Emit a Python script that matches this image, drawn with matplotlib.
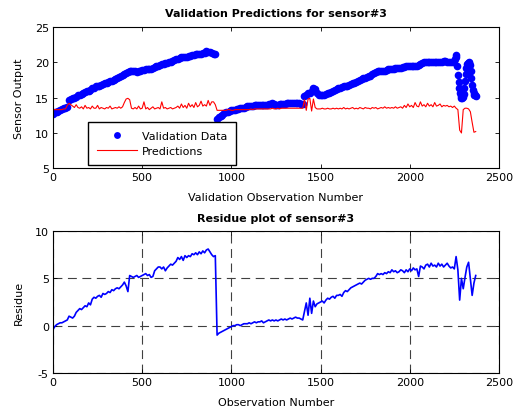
import numpy as np
import matplotlib
matplotlib.use("Agg")
import matplotlib.pyplot as plt

plt.rcParams['font.family'] = ['DejaVu Sans']
plt.rcParams['axes.unicode_minus'] = False

# observation index (every 10th observation)
obs = np.arange(0, 2380, 10)
# validation data: every 10th observation, then every 4th in the final swing
val_obs = np.concatenate([np.arange(0, 2250, 10), np.arange(2250, 2374, 4)])

validation_data = [
    12.7, 12.9, 13.0, 13.1, 13.3, 13.4, 13.5, 13.6, 13.7, 14.6,
    14.8, 14.9, 15.0, 15.1, 15.3, 15.3, 15.5, 15.6, 15.8, 15.9,
    16.0, 16.1, 16.3, 16.4, 16.6, 16.6, 16.7, 16.8, 16.9, 17.0,
    17.1, 17.2, 17.3, 17.4, 17.5, 17.6, 17.8, 17.9, 18.1, 18.2,
    18.4, 18.5, 18.6, 18.7, 18.8, 18.7, 18.7, 18.6, 18.7, 18.8,
    18.9, 18.9, 19.0, 19.0, 19.0, 19.1, 19.2, 19.3, 19.4, 19.5,
    19.6, 19.7, 19.8, 19.9, 19.9, 20.0, 20.1, 20.2, 20.3, 20.4,
    20.5, 20.6, 20.7, 20.7, 20.8, 20.8, 20.9, 20.9, 21.0, 21.0,
    21.1, 21.1, 21.2, 21.2, 21.3, 21.3, 21.6, 21.5, 21.4, 21.3,
    21.2, 21.1, 12.0, 12.2, 12.4, 12.6, 12.8, 12.9, 13.0, 13.1,
    13.2, 13.3, 13.3, 13.4, 13.4, 13.5, 13.5, 13.6, 13.7, 13.8,
    13.8, 13.8, 13.8, 13.9, 13.9, 14.0, 14.0, 14.0, 14.0, 14.0,
    14.0, 14.1, 14.1, 14.2, 14.1, 14.0, 14.0, 14.1, 14.1, 14.1,
    14.1, 14.2, 14.2, 14.3, 14.3, 14.2, 14.2, 14.2, 14.2, 14.1,
    14.1, 15.2, 15.4, 15.6, 15.7, 15.9, 16.3, 16.2, 15.6, 15.4,
    15.4, 15.4, 15.4, 15.5, 15.6, 15.7, 15.8, 15.9, 16.1, 16.2,
    16.3, 16.4, 16.5, 16.6, 16.7, 16.7, 16.8, 16.9, 17.0, 17.1,
    17.2, 17.3, 17.5, 17.6, 17.8, 17.8, 17.9, 18.0, 18.1, 18.3,
    18.5, 18.6, 18.7, 18.7, 18.7, 18.7, 18.8, 18.9, 19.0, 19.0,
    19.0, 19.1, 19.2, 19.2, 19.2, 19.2, 19.3, 19.3, 19.4, 19.4,
    19.4, 19.4, 19.4, 19.5, 19.5, 19.6, 19.7, 19.9, 20.0, 20.1,
    20.1, 20.0, 20.0, 20.0, 20.0, 20.1, 20.1, 20.1, 20.1, 20.2,
    20.2, 20.1, 20.1, 20.1, 20.1,
    # final swing, every 4th observation from 2250
    20.2, 20.5, 21.0, 20.8, 19.5, 18.2, 17.2, 16.3, 15.7, 15.2,
    15.0, 15.0, 15.1, 15.5, 16.3, 17.3, 18.4, 19.2, 19.7, 19.9,
    20.0, 19.9, 19.6, 18.8, 17.8, 16.8, 16.1, 15.7, 15.4, 15.3,
    15.2,
]

predictions = [
    13.3, 13.3, 13.3, 13.3, 13.3, 13.3, 13.4, 13.4, 13.9, 14.2,
    14.0, 13.8, 13.6, 14.0, 13.6, 13.5, 13.7, 13.4, 13.9, 13.5,
    13.6, 13.4, 13.8, 13.5, 13.5, 13.9, 13.4, 13.6, 13.5, 13.4,
    13.6, 13.5, 13.8, 13.4, 13.5, 13.6, 13.5, 13.7, 13.5, 13.7,
    14.3, 14.8, 14.9, 14.7, 13.5, 13.4, 13.6, 13.4, 13.8, 13.4,
    13.5, 14.4, 13.4, 13.6, 13.3, 13.5, 13.7, 13.4, 13.5, 13.6,
    13.4, 14.4, 13.5, 13.6, 13.4, 13.5, 13.6, 13.4, 13.5, 13.6,
    13.8, 13.5, 14.1, 13.6, 13.9, 13.5, 14.2, 13.7, 14.0, 13.6,
    14.3, 13.7, 13.9, 14.5, 13.8, 14.0, 13.8, 14.6, 13.9, 14.4,
    14.4, 14.0, 13.2, 13.2, 13.2, 13.2, 13.2, 13.2, 13.3, 13.3,
    13.2, 13.2, 13.3, 13.3, 13.3, 13.3, 13.3, 13.3, 13.3, 13.3,
    13.3, 13.4, 13.3, 13.4, 13.4, 13.4, 13.4, 13.4, 13.4, 13.4,
    13.4, 13.4, 13.4, 13.5, 13.4, 13.4, 13.5, 13.4, 13.5, 13.5,
    13.5, 13.5, 13.5, 13.5, 13.5, 13.5, 13.5, 13.5, 13.5, 13.5,
    13.5, 14.7, 13.2, 14.8, 14.9, 13.1, 14.8, 13.6, 13.4, 13.4,
    13.4, 13.5, 13.4, 13.4, 13.5, 13.4, 13.4, 13.5, 13.4, 13.5,
    13.4, 13.5, 13.4, 13.6, 13.4, 13.5, 13.4, 13.5, 13.6, 13.4,
    13.5, 13.4, 13.6, 13.5, 13.4, 13.6, 13.5, 13.5, 13.4, 13.6,
    13.5, 13.6, 13.4, 13.5, 13.6, 13.5, 13.7, 13.5, 13.6, 13.5,
    13.6, 13.5, 13.7, 13.5, 13.6, 13.7, 13.5, 13.9, 13.6, 14.1,
    13.7, 13.9, 13.6, 14.3, 13.8, 13.7, 14.4, 13.8, 14.0, 13.7,
    14.2, 13.8, 14.0, 13.7, 14.3, 13.8, 13.9, 14.1, 13.7, 13.9,
    13.8, 13.9, 13.7, 13.8, 13.6, 13.8, 13.5, 13.3, 10.4, 10.0,
    13.3, 13.5, 13.5, 13.4, 13.0, 11.5, 10.1, 10.2,
]

residue = [
    -0.4, -0.1, 0.1, 0.2, 0.3, 0.3, 0.4, 0.5, 0.6, 1.0,
    0.9, 0.8, 1.0, 1.4, 1.6, 1.8, 1.7, 1.9, 2.1, 2.0,
    2.4, 2.2, 2.8, 3.0, 2.9, 3.1, 3.2, 3.0, 3.4, 3.3,
    3.4, 3.6, 3.5, 3.8, 3.7, 3.9, 4.0, 3.9, 4.1, 4.3,
    4.6, 4.2, 3.6, 5.3, 5.2, 5.1, 5.2, 5.3, 5.1, 5.2,
    5.3, 5.4, 5.5, 5.3, 5.4, 5.1, 5.2, 5.8, 6.0, 6.2,
    6.2, 6.0, 6.2, 5.8, 6.1, 6.3, 6.5, 6.4, 6.6, 6.8,
    7.2, 7.0, 7.3, 6.9, 7.4, 7.2, 7.4, 7.3, 7.6, 7.5,
    7.7, 7.5, 7.8, 7.6, 7.9, 7.7, 8.0, 8.1, 7.8, 7.5,
    7.3, 7.4, -1.0, -0.8, -0.7, -0.6, -0.5, -0.4, -0.3, -0.2,
    -0.1, 0.0, 0.0, 0.1, 0.1, 0.0, 0.1, 0.2, 0.2, 0.2,
    0.3, 0.2, 0.3, 0.4, 0.3, 0.4, 0.4, 0.5, 0.3, 0.4,
    0.5, 0.6, 0.5, 0.6, 0.5, 0.6, 0.5, 0.6, 0.7, 0.6,
    0.7, 0.6, 0.7, 0.8, 0.7, 0.8, 0.9, 0.8, 0.8, 0.7,
    0.6, 1.5, 2.4, 1.1, 2.9, 1.3, 2.6, 2.0, 2.3, 2.4,
    2.5, 2.6, 2.4, 2.7, 2.9, 2.8, 3.0, 3.1, 2.9, 3.2,
    3.2, 3.3, 3.1, 3.5, 3.7, 3.6, 3.8, 4.0, 4.1, 4.2,
    4.3, 4.4, 4.5, 4.4, 4.6, 4.8, 4.9, 5.0, 4.9, 5.0,
    5.0, 5.2, 5.5, 5.4, 5.5, 5.4, 5.6, 5.5, 5.7, 5.6,
    5.9, 5.7, 5.8, 5.6, 5.7, 5.9, 5.8, 5.6, 5.9, 5.7,
    6.0, 5.8, 6.1, 5.9, 6.0, 5.2, 6.3, 6.2, 6.0, 6.4,
    6.5, 6.2, 6.6, 6.3, 6.4, 6.2, 6.6, 6.3, 6.5, 6.2,
    6.4, 6.6, 6.3, 6.1, 6.2, 6.0, 7.3, 5.9, 2.7, 5.0,
    3.9, 5.1, 6.2, 6.7, 5.0, 3.2, 4.5, 5.3,
]

xticks = [0, 500, 1000, 1500, 2000, 2500]
top_yticks = [5, 10, 15, 20, 25]
bot_yticks = [-5, 0, 5, 10]

fig = plt.figure(figsize=(5.17, 4.10), dpi=100)
ax1 = fig.add_axes([0.1025, 0.587, 0.8625, 0.345])
ax2 = fig.add_axes([0.1025, 0.088, 0.8625, 0.346])

fs = 8
for ax in (ax1, ax2):
    ax.tick_params(direction='in', length=3, width=0.6, labelsize=fs,
                   top=True, right=True, pad=3)
    for sp in ax.spines.values():
        sp.set_linewidth(0.8)
    ax.set_xlim(0, 2500)
    ax.set_xticks(xticks)

ax1.plot(val_obs, validation_data, 'o', color='#0000ff', markersize=5.5,
         markeredgewidth=0, label='Validation Data')
ax1.plot(obs, predictions, '-', color='#ff0000', linewidth=0.8,
         label='Predictions')
ax1.set_ylim(5, 25)
ax1.set_yticks(top_yticks)
ax1.set_title('Validation Predictions for sensor#3', fontsize=8,
              fontweight='bold', pad=7.5)
ax1.set_xlabel('Validation Observation Number', fontsize=fs, labelpad=7)
ax1.set_ylabel('Sensor Output', fontsize=fs, labelpad=8)
leg = ax1.legend(loc='lower left', bbox_to_anchor=(0.071, 0.0),
                 fontsize=fs, frameon=True, fancybox=False,
                 edgecolor='black', framealpha=1, borderpad=0.8,
                 handlelength=3.6, handletextpad=0.45, labelspacing=0.45,
                 borderaxespad=0.3, markerscale=0.9)
leg.get_frame().set_linewidth(1.0)

ax2.plot(obs, residue, '-', color='#0000ff', linewidth=1.2)
ax2.set_ylim(-5, 10)
ax2.set_yticks(bot_yticks)
ax2.grid(True, color='#404040', linestyle=(0, (8, 5)), linewidth=0.8)
ax2.set_title('Residue plot of sensor#3', fontsize=8, fontweight='bold',
              pad=7.5)
ax2.set_xlabel('Observation Number', fontsize=fs, labelpad=7)
ax2.set_ylabel('Residue', fontsize=fs, labelpad=8)

fig.savefig('out.png', dpi=100)
